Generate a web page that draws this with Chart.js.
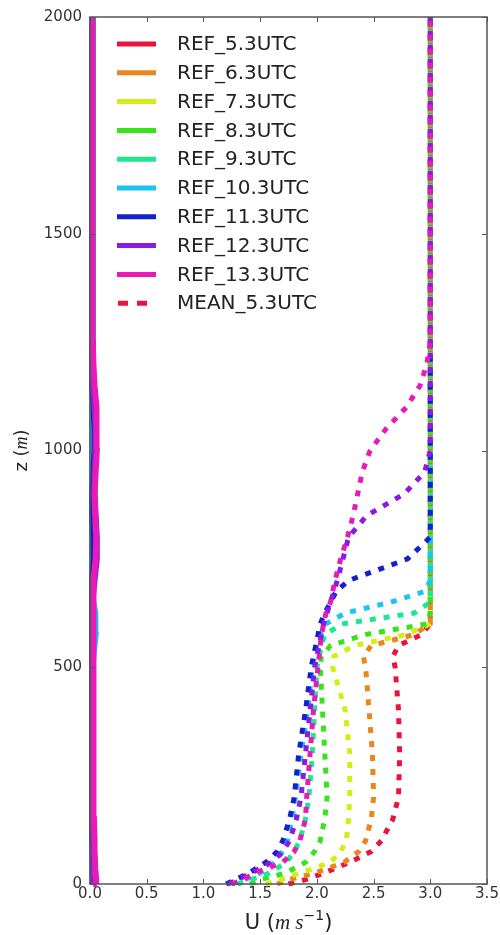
<!DOCTYPE html>
<html>
<head>
<meta charset="utf-8">
<title>U profiles</title>
<script src="https://cdn.jsdelivr.net/npm/chart.js@4.4.1/dist/chart.umd.min.js"></script>
<style>
  html, body { margin: 0; padding: 0; background: #fff; }
  #wrap { width: 500px; height: 935px; }
</style>
</head>
<body>
<div id="wrap"><canvas id="prof" width="500" height="935"></canvas></div>
<script>
/* height levels (m) shared by every profile */
var zLevels = [0, 10, 25, 50, 75, 100, 150, 200, 300, 400, 500, 525, 550, 575, 600, 625,
               650, 675, 700, 750, 800, 850, 900, 950, 1000, 1050, 1100, 1150, 1200, 1250, 2000];

var hours  = ['5.3UTC', '6.3UTC', '7.3UTC', '8.3UTC', '9.3UTC', '10.3UTC', '11.3UTC', '12.3UTC', '13.3UTC'];
var colors = ['#e8143c', '#ea861c', '#d2ee16', '#36e41c', '#1ce88e', '#1cc4f0', '#1420cc', '#8a1ae4', '#e81ab8'];

/* REF runs: U stays close to zero */
var refU53  = [0.02, 0.02, 0.02, 0.02, 0.02, 0.02, 0.02, 0.02, 0.02, 0.02, 0.02, 0.02, 0.02, 0.02, 0.02, 0.02, 0.02, 0.02, 0.02, 0.02, 0.02, 0.02, 0.02, 0.02, 0.02, 0.02, 0.02, 0.02, 0.02, 0.02, 0.02];
var refU63  = [0.02, 0.02, 0.02, 0.02, 0.02, 0.02, 0.02, 0.02, 0.02, 0.02, 0.02, 0.02, 0.02, 0.02, 0.02, 0.02, 0.02, 0.02, 0.02, 0.02, 0.02, 0.02, 0.02, 0.02, 0.02, 0.02, 0.02, 0.02, 0.02, 0.02, 0.02];
var refU73  = [0.02, 0.02, 0.02, 0.02, 0.02, 0.02, 0.02, 0.02, 0.02, 0.02, 0.02, 0.02, 0.02, 0.02, 0.02, 0.02, 0.02, 0.02, 0.02, 0.02, 0.02, 0.02, 0.02, 0.02, 0.02, 0.02, 0.02, 0.02, 0.02, 0.02, 0.02];
var refU83  = [0.02, 0.02, 0.02, 0.02, 0.02, 0.02, 0.02, 0.02, 0.02, 0.02, 0.02, 0.02, 0.02, 0.02, 0.02, 0.02, 0.02, 0.02, 0.02, 0.02, 0.02, 0.02, 0.02, 0.02, 0.02, 0.02, 0.02, 0.02, 0.02, 0.02, 0.02];
var refU93  = [0.02, 0.02, 0.02, 0.02, 0.02, 0.02, 0.02, 0.02, 0.02, 0.02, 0.02, 0.02, 0.03, 0.03, 0.03, 0.03, 0.02, 0.02, 0.02, 0.02, 0.02, 0.02, 0.02, 0.02, 0.02, 0.02, 0.02, 0.02, 0.02, 0.02, 0.02];
var refU103 = [0.02, 0.02, 0.02, 0.02, 0.02, 0.02, 0.02, 0.02, 0.02, 0.02, 0.02, 0.03, 0.04, 0.05, 0.05, 0.045, 0.03, 0.02, 0.02, 0.02, 0.02, 0.02, 0.02, 0.02, 0.02, 0.02, 0.02, 0.02, 0.02, 0.02, 0.02];
var refU113 = [0.04, 0.04, 0.03, 0.03, 0.03, 0.02, 0.02, 0.02, 0.02, 0.02, 0.02, 0.02, 0.02, 0.02, 0.02, 0.02, 0.02, 0.02, 0.02, 0.03, 0.03, 0.02, 0.02, 0.03, 0.04, 0.04, 0.03, 0.02, 0.02, 0.02, 0.02];
var refU123 = [0.03, 0.03, 0.03, 0.03, 0.03, 0.03, 0.02, 0.02, 0.02, 0.02, 0.02, 0.02, 0.02, 0.02, 0.02, 0.02, 0.02, 0.03, 0.04, 0.06, 0.06, 0.05, 0.04, 0.04, 0.05, 0.05, 0.04, 0.03, 0.02, 0.02, 0.02];
var refU133 = [0.06, 0.055, 0.05, 0.045, 0.04, 0.04, 0.035, 0.03, 0.03, 0.03, 0.03, 0.03, 0.03, 0.03, 0.03, 0.03, 0.03, 0.03, 0.035, 0.05, 0.055, 0.045, 0.04, 0.05, 0.06, 0.06, 0.055, 0.04, 0.03, 0.025, 0.02];

/* ensemble means */
var meanU53  = [1.75, 1.90, 2.06, 2.29, 2.48, 2.57, 2.67, 2.72, 2.73, 2.72, 2.69, 2.67, 2.72, 2.92, 3.00, 3.00, 3.00, 3.00, 3.00, 3.00, 3.00, 3.00, 3.00, 3.00, 3.00, 3.00, 3.00, 3.00, 3.00, 3.00, 3.00];
var meanU63  = [1.65, 1.75, 1.98, 2.24, 2.37, 2.43, 2.48, 2.50, 2.49, 2.46, 2.43, 2.41, 2.48, 2.85, 3.00, 3.00, 3.00, 3.00, 3.00, 3.00, 3.00, 3.00, 3.00, 3.00, 3.00, 3.00, 3.00, 3.00, 3.00, 3.00, 3.00];
var meanU73  = [1.55, 1.68, 1.85, 2.12, 2.21, 2.26, 2.28, 2.29, 2.29, 2.25, 2.14, 2.15, 2.33, 2.78, 3.00, 3.00, 3.00, 3.00, 3.00, 3.00, 3.00, 3.00, 3.00, 3.00, 3.00, 3.00, 3.00, 3.00, 3.00, 3.00, 3.00];
var meanU83  = [1.41, 1.50, 1.72, 1.90, 1.98, 2.03, 2.07, 2.09, 2.07, 2.05, 2.03, 2.04, 2.12, 2.42, 2.97, 3.00, 3.00, 3.00, 3.00, 3.00, 3.00, 3.00, 3.00, 3.00, 3.00, 3.00, 3.00, 3.00, 3.00, 3.00, 3.00];
var meanU93  = [1.30, 1.42, 1.58, 1.73, 1.80, 1.85, 1.90, 1.93, 1.96, 1.98, 2.00, 2.02, 2.04, 2.07, 2.22, 2.86, 3.00, 3.00, 3.00, 3.00, 3.00, 3.00, 3.00, 3.00, 3.00, 3.00, 3.00, 3.00, 3.00, 3.00, 3.00];
var meanU103 = [1.25, 1.36, 1.50, 1.63, 1.70, 1.74, 1.78, 1.81, 1.86, 1.92, 1.96, 1.98, 2.00, 2.03, 2.08, 2.25, 2.65, 2.95, 3.00, 3.00, 3.00, 3.00, 3.00, 3.00, 3.00, 3.00, 3.00, 3.00, 3.00, 3.00, 3.00];
var meanU113 = [1.20, 1.28, 1.40, 1.55, 1.65, 1.70, 1.76, 1.80, 1.84, 1.90, 1.95, 1.97, 1.99, 2.01, 2.03, 2.07, 2.12, 2.17, 2.28, 2.80, 3.00, 3.00, 3.00, 3.00, 3.00, 3.00, 3.00, 3.00, 3.00, 3.00, 3.00];
var meanU123 = [1.22, 1.30, 1.42, 1.60, 1.70, 1.76, 1.82, 1.86, 1.90, 1.94, 1.98, 2.00, 2.02, 2.04, 2.06, 2.09, 2.12, 2.15, 2.18, 2.23, 2.28, 2.44, 2.77, 2.95, 3.00, 3.00, 3.00, 3.00, 3.00, 3.00, 3.00];
var meanU133 = [1.25, 1.35, 1.45, 1.70, 1.80, 1.85, 1.90, 1.91, 1.94, 1.97, 2.01, 2.02, 2.03, 2.04, 2.06, 2.08, 2.12, 2.14, 2.16, 2.21, 2.27, 2.32, 2.36, 2.40, 2.47, 2.61, 2.79, 2.91, 2.97, 3.00, 3.00];

var xTicks = [0, 0.5, 1, 1.5, 2, 2.5, 3, 3.5];
var yTicks = [0, 500, 1000, 1500, 2000];

var refRuns  = [refU53, refU63, refU73, refU83, refU93, refU103, refU113, refU123, refU133];
var meanRuns = [meanU53, meanU63, meanU73, meanU83, meanU93, meanU103, meanU113, meanU123, meanU133];

function profile(u) {
    return zLevels.map(function(z, i) { return { x: u[i], y: z }; });
}

/* later series on top, like the plotting order */
var datasets = [];
refRuns.forEach(function(u, i) {
    datasets.push({
        label: 'REF_' + hours[i], data: profile(u), inLegend: true,
        borderColor: colors[i], borderWidth: 6, borderDash: [],
        clip: 6, order: 100 - i
    });
});
meanRuns.forEach(function(u, i) {
    datasets.push({
        label: 'MEAN_' + hours[i], data: profile(u), inLegend: i === 0,
        borderColor: colors[i], borderWidth: 5, borderDash: [6, 8],
        clip: 6, order: 50 - i
    });
});

/* legend in the upper left corner of the axes */
var legendBox = {
    id: 'legendBox',
    afterDatasetsDraw: function(chart) {
        var ctx = chart.ctx, a = chart.chartArea;
        var items = chart.data.datasets.filter(function(d) { return d.inLegend; });
        ctx.save();
        ctx.font = '20px "DejaVu Sans"';
        ctx.textBaseline = 'middle';
        items.forEach(function(d, i) {
            var y = a.top + 27 + i * 28.8;
            ctx.strokeStyle = d.borderColor;
            ctx.lineWidth = 5;
            ctx.beginPath();
            if (d.borderDash.length) {
                ctx.setLineDash([10, 9]);
                ctx.moveTo(a.left + 28, y); ctx.lineTo(a.left + 58, y);
            } else {
                ctx.setLineDash([]);
                ctx.moveTo(a.left + 27, y); ctx.lineTo(a.left + 66, y);
            }
            ctx.stroke();
            ctx.setLineDash([]);
            ctx.fillStyle = '#222';
            ctx.fillText(d.label, a.left + 87, y + 1);
        });
        ctx.restore();
    }
};

/* frame, inward ticks and axis titles */
function drawParts(ctx, parts, cx, y) {
    var w = 0;
    parts.forEach(function(p) { ctx.font = p.f; w += ctx.measureText(p.t).width; });
    var x = cx - w / 2;
    parts.forEach(function(p) {
        ctx.font = p.f;
        ctx.fillText(p.t, x, y + (p.dy || 0));
        x += ctx.measureText(p.t).width;
    });
}

var frame = {
    id: 'frame',
    afterDatasetsDraw: function(chart) {
        var ctx = chart.ctx, a = chart.chartArea;
        var sx = chart.scales.x, sy = chart.scales.y;
        ctx.save();
        ctx.strokeStyle = '#555';
        ctx.lineWidth = 1.5;
        ctx.strokeRect(a.left, a.top, a.right - a.left, a.bottom - a.top);
        ctx.lineWidth = 1;
        ctx.beginPath();
        xTicks.forEach(function(v) {
            var px = Math.round(sx.getPixelForValue(v)) + 0.5;
            ctx.moveTo(px, a.bottom); ctx.lineTo(px, a.bottom - 5);
            ctx.moveTo(px, a.top);    ctx.lineTo(px, a.top + 5);
        });
        yTicks.forEach(function(v) {
            var py = Math.round(sy.getPixelForValue(v)) + 0.5;
            ctx.moveTo(a.left, py);  ctx.lineTo(a.left + 5, py);
            ctx.moveTo(a.right, py); ctx.lineTo(a.right - 5, py);
        });
        ctx.stroke();

        ctx.fillStyle = '#222';
        ctx.textBaseline = 'alphabetic';
        drawParts(ctx, [
            { t: 'U (', f: '21px "DejaVu Sans"' },
            { t: 'm s', f: 'italic 21px "Liberation Serif"' },
            { t: '\u22121', f: '14px "DejaVu Sans"', dy: -9 },
            { t: ')', f: '21px "DejaVu Sans"' }
        ], (a.left + a.right) / 2, 929);

        ctx.translate(27, (a.top + a.bottom) / 2);
        ctx.rotate(-Math.PI / 2);
        drawParts(ctx, [
            { t: 'z (', f: '18px "DejaVu Sans"' },
            { t: 'm', f: 'italic 18px "Liberation Serif"' },
            { t: ')', f: '18px "DejaVu Sans"' }
        ], 0, 0);
        ctx.restore();
    }
};

new Chart(document.getElementById('prof'), {
    type: 'scatter',
    data: { datasets: datasets },
    options: {
        responsive: false,
        animation: false,
        showLine: true,
        elements: { point: { radius: 0, hoverRadius: 0 }, line: { tension: 0, fill: false } },
        layout: { padding: { top: 17, right: 13, left: 0, bottom: 0 } },
        plugins: { legend: { display: false }, tooltip: { enabled: false } },
        scales: {
            x: {
                type: 'linear', min: 0, max: 3.5,
                afterFit: function(s) { s.height = 51; },
                afterBuildTicks: function(s) { s.ticks = xTicks.map(function(v) { return { value: v }; }); },
                grid: { display: false, drawTicks: false },
                border: { display: false },
                ticks: {
                    padding: 1, color: '#333', font: { family: 'DejaVu Sans', size: 15 },
                    maxRotation: 0,
                    callback: function(v) { return Number(v).toFixed(1); }
                }
            },
            y: {
                type: 'linear', min: 0, max: 2000,
                afterFit: function(s) { s.width = 90; },
                afterBuildTicks: function(s) { s.ticks = yTicks.map(function(v) { return { value: v }; }); },
                grid: { display: false, drawTicks: false },
                border: { display: false },
                ticks: {
                    padding: 8, color: '#333', font: { family: 'DejaVu Sans', size: 15 },
                    callback: function(v) { return String(v); }
                }
            }
        }
    },
    plugins: [legendBox, frame]
});
</script>
</body>
</html>
